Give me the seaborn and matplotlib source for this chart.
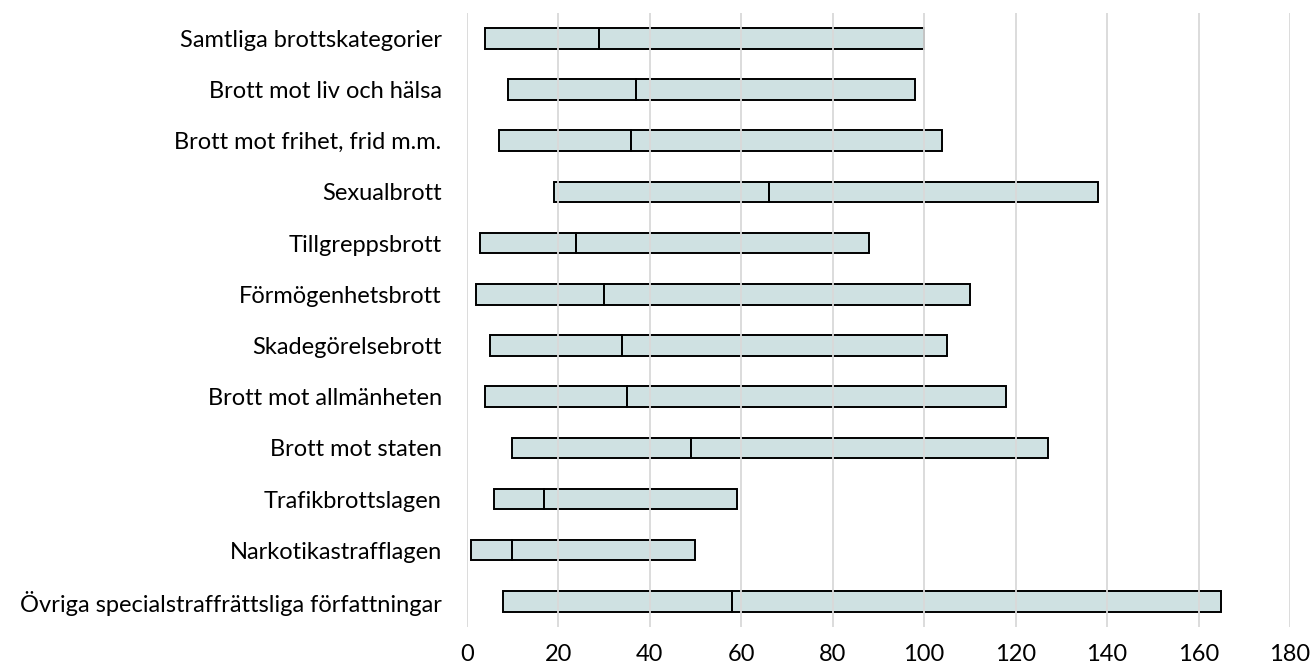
import matplotlib
matplotlib.use("Agg")
import matplotlib.pyplot as plt
import seaborn as sns
import pandas as pd

categories = [
    "Samtliga brottskategorier",
    "Brott mot liv och hälsa",
    "Brott mot frihet, frid m.m.",
    "Sexualbrott",
    "Tillgreppsbrott",
    "Förmögenhetsbrott",
    "Skadegörelsebrott",
    "Brott mot allmänheten",
    "Brott mot staten",
    "Trafikbrottslagen",
    "Narkotikastrafflagen",
    "Övriga specialstraffrättsliga författningar",
]
low = [4, 9, 7, 19, 3, 2, 5, 4, 10, 6, 1, 8]
median = [29, 37, 36, 66, 24, 30, 34, 35, 49, 17, 10, 58]
high = [100, 98, 104, 138, 88, 110, 105, 118, 127, 59, 50, 165]
xticks = list(range(0, 181, 20))

df = pd.DataFrame({"kategori": categories, "low": low, "median": median, "high": high})
df["lower_part"] = df["median"] - df["low"]
df["upper_part"] = df["high"] - df["median"]

sns.set_theme(style="white")
plt.rcParams["font.family"] = ["Lato", "DejaVu Sans"]

fig, ax = plt.subplots(figsize=(13.11, 6.72), dpi=100)
fig.subplots_adjust(left=0.356, right=0.984, top=0.981, bottom=0.067)

fill = (160 / 255, 196 / 255, 198 / 255, 0.5)
sns.barplot(data=df, x="lower_part", y="kategori", left=df["low"], width=0.4,
            color=fill, edgecolor="black", linewidth=1.4, orient="h", ax=ax)
sns.barplot(data=df, x="upper_part", y="kategori", left=df["median"], width=0.4,
            color=fill, edgecolor="black", linewidth=1.4, orient="h", ax=ax)
for p in ax.patches:
    p.set_facecolor(fill)

ax.set_xlim(0, 180)
ax.set_xticks(xticks)
ax.set_ylim(len(categories) - 0.5, -0.5)
ax.xaxis.grid(True, color="#d9d9d9", linewidth=1.3)
ax.set_axisbelow(False)
ax.set_xlabel("")
ax.set_ylabel("")
ax.tick_params(axis="both", length=0, labelsize=17, colors="black")
ax.tick_params(axis="y", pad=18)
ax.tick_params(axis="x", pad=12)
sns.despine(left=True, bottom=True)

plt.savefig("out.png", dpi=100)
